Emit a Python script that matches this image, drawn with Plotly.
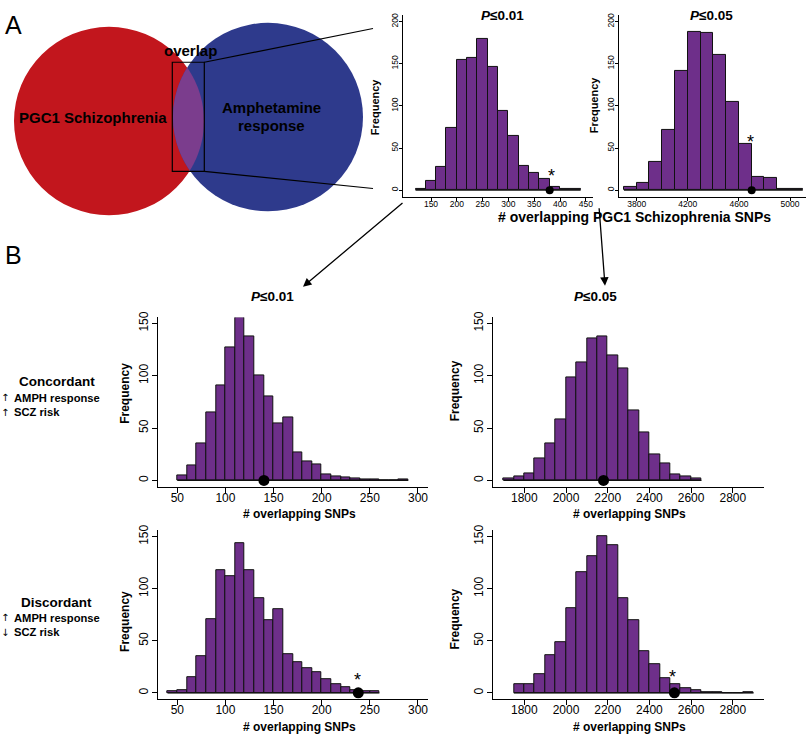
import numpy as np
import plotly.graph_objects as go

W, H = 807, 734
FONT = "Liberation Sans, Arial, Helvetica, sans-serif"
PURPLE = "#6E2F8A"
RED = "#C2161D"
BLUE = "#2E3A8C"
LENS = "#7B3D8D"

# ---------------- data ----------------
# Panel A, P<=0.01 (bin width 20)
a1_bin_left = [120, 140, 160, 180, 200, 220, 240, 260, 280, 300, 320, 340, 360, 380, 400, 420]
a1_counts = [1, 11, 28, 74, 155, 157, 180, 146, 94, 64, 29, 20, 13, 4, 2, 1]
a1_observed = 380
a1_star = (384, 21)
a1_xticks = [150, 200, 250, 300, 350, 400, 450]
a1_yticks = [0, 50, 100, 150, 200]

# Panel A, P<=0.05 (bin width 100)
a2_bin_left = [3700, 3800, 3900, 4000, 4100, 4200, 4300, 4400, 4500, 4600, 4700, 4800, 4900, 5000]
a2_counts = [4, 9, 33, 72, 142, 188, 186, 161, 105, 55, 16, 15, 1, 1]
a2_observed = 4700
a2_star = (4694, 62)
a2_xticks = [3800, 4200, 4600, 5000]
a2_yticks = [0, 50, 100, 150, 200]

# Panel B, concordant, P<=0.01 (bin width 10)
b1_bin_left = [50, 60, 70, 80, 90, 100, 110, 120, 130, 140, 150, 160, 170, 180, 190,
               200, 210, 220, 230, 240, 250, 260, 270, 280]
b1_counts = [5, 14, 35, 65, 91, 127, 156, 138, 100, 80, 54, 60, 27, 18, 15,
             6, 4, 3, 2, 1, 1, 0, 0, 1]
b1_observed = 140

# Panel B, concordant, P<=0.05 (bin width 50)
b2_bin_left = [1700, 1750, 1800, 1850, 1900, 1950, 2000, 2050, 2100, 2150, 2200, 2250,
               2300, 2350, 2400, 2450, 2500, 2550, 2600]
b2_counts = [2, 4, 7, 21, 35, 58, 98, 113, 136, 138, 119, 107, 67, 46, 25, 16, 6, 4, 2]
b2_observed = 2180

# Panel B, discordant, P<=0.01 (bin width 10)
b3_bin_left = [40, 50, 60, 70, 80, 90, 100, 110, 120, 130, 140, 150, 160, 170, 180,
               190, 200, 210, 220, 230, 240, 250]
b3_counts = [2, 3, 15, 35, 71, 118, 112, 144, 118, 91, 70, 80, 37, 29, 24,
             20, 13, 8, 5, 3, 2, 2]
b3_observed = 238
b3_star = (237, 16)

# Panel B, discordant, P<=0.05 (bin width 50)
b4_bin_left = [1750, 1800, 1850, 1900, 1950, 2000, 2050, 2100, 2150, 2200, 2250, 2300,
               2350, 2400, 2450, 2500, 2550, 2600, 2650, 2700, 2750, 2800, 2850]
b4_counts = [8, 8, 18, 36, 49, 81, 116, 131, 150, 142, 91, 70,
             40, 28, 14, 8, 4, 3, 1, 1, 0, 0, 1]
b4_observed = 2520
b4_star = (2510, 19)

b_left_xticks = [50, 100, 150, 200, 250, 300]
b_right_xticks = [1800, 2000, 2200, 2400, 2600, 2800]
b_yticks = [0, 50, 100, 150]


def lin_range(v1, p1, v2, p2, pa, pb):
    s = (p2 - p1) / (v2 - v1)
    return [v1 + (pa - p1) / s, v1 + (pb - p1) / s]


panels = [
    dict(bins=a1_bin_left, w=20, counts=a1_counts, obs=a1_observed, star=a1_star,
         xticks=a1_xticks, yticks=a1_yticks,
         xcal=(150, 431, 400, 560), xreg=(403, 593),
         ycal=(0, 185.7, 200, 15.7), yreg=(192.5, 9), tfs=8.5, dot=8, tl=3,
         xso=-4, yso=-2),
    dict(bins=a2_bin_left, w=100, counts=a2_counts, obs=a2_observed, star=a2_star,
         xticks=a2_xticks, yticks=a2_yticks,
         xcal=(3800, 636.7, 5000, 790), xreg=(619, 806),
         ycal=(0, 185.7, 200, 15.7), yreg=(192.5, 9), tfs=8.5, dot=8, tl=3,
         xso=-4, yso=-2),
    dict(bins=b1_bin_left, w=10, counts=b1_counts, obs=b1_observed, star=None,
         xticks=b_left_xticks, yticks=b_yticks,
         xcal=(50, 177.3, 200, 321.7), xreg=(158.3, 428),
         ycal=(0, 478.3, 150, 320), yreg=(484.6, 314), tfs=12, dot=11, tl=5,
         xso=-5, yso=0),
    dict(bins=b2_bin_left, w=50, counts=b2_counts, obs=b2_observed, star=None,
         xticks=b_right_xticks, yticks=b_yticks,
         xcal=(1800, 524.3, 2000, 566), xreg=(493.3, 763.6),
         ycal=(0, 478.3, 150, 320), yreg=(484.6, 314), tfs=12, dot=11, tl=5,
         xso=-5, yso=0),
    dict(bins=b3_bin_left, w=10, counts=b3_counts, obs=b3_observed, star=b3_star,
         xticks=b_left_xticks, yticks=b_yticks,
         xcal=(50, 177.3, 200, 321.7), xreg=(158.3, 428),
         ycal=(0, 692.5, 150, 535), yreg=(698.8, 528.5), tfs=12, dot=11, tl=5,
         xso=-5, yso=0),
    dict(bins=b4_bin_left, w=50, counts=b4_counts, obs=b4_observed, star=b4_star,
         xticks=b_right_xticks, yticks=b_yticks,
         xcal=(1800, 524.3, 2000, 566), xreg=(493.3, 763.6),
         ycal=(0, 692.5, 150, 535), yreg=(698.8, 528.5), tfs=12, dot=11, tl=5,
         xso=-5, yso=0),
]

fig = go.Figure()
annotations = []
layout_axes = {}

for i, p in enumerate(panels, start=1):
    xa = "x" if i == 1 else f"x{i}"
    ya = "y" if i == 1 else f"y{i}"
    xr = lin_range(*p["xcal"], *p["xreg"])
    yr = lin_range(*p["ycal"], *p["yreg"])
    centers = [b + p["w"] / 2 for b in p["bins"]]
    fig.add_trace(go.Bar(
        x=centers, y=p["counts"], width=p["w"],
        marker=dict(color=PURPLE, line=dict(color="#111111", width=1)),
        xaxis=xa, yaxis=ya, hoverinfo="skip"))
    # baseline of the histogram rectangles (visible where a bin is empty)
    fig.add_trace(go.Scatter(
        x=[p["bins"][0], p["bins"][-1] + p["w"]], y=[0, 0], mode="lines",
        line=dict(color="#111111", width=1.2), xaxis=xa, yaxis=ya,
        hoverinfo="skip"))
    fig.add_trace(go.Scatter(
        x=[p["obs"]], y=[0], mode="markers",
        marker=dict(color="black", size=p["dot"]),
        xaxis=xa, yaxis=ya, cliponaxis=False, hoverinfo="skip"))
    common = dict(showline=True, linecolor="black", linewidth=1, ticks="outside",
                  ticklen=p["tl"], tickwidth=1, tickcolor="black", showgrid=False,
                  zeroline=False, fixedrange=True,
                  tickfont=dict(family=FONT, size=p["tfs"], color="black"))
    layout_axes["xaxis" if i == 1 else f"xaxis{i}"] = dict(
        domain=[p["xreg"][0] / W, p["xreg"][1] / W], range=xr, anchor=ya,
        tickvals=p["xticks"], ticktext=[str(t) for t in p["xticks"]],
        ticklabelstandoff=p["xso"], **common)
    layout_axes["yaxis" if i == 1 else f"yaxis{i}"] = dict(
        domain=[1 - p["yreg"][0] / H, 1 - p["yreg"][1] / H], range=yr, anchor=xa,
        tickvals=p["yticks"], ticktext=[str(t) for t in p["yticks"]], tickangle=-90,
        ticklabelstandoff=p["yso"], **common)
    if p["star"] is not None:
        annotations.append(dict(x=p["star"][0], y=p["star"][1], xref=xa, yref=ya,
                                text="*", showarrow=False, yshift=-4,
                                font=dict(family=FONT, size=18, color="black")))


def txt(x, y, s, size, bold=True, xanchor="center", angle=0, family=FONT):
    t = f"<b>{s}</b>" if bold else s
    annotations.append(dict(x=x / W, y=1 - y / H, xref="paper", yref="paper", text=t,
                            showarrow=False, xanchor=xanchor, yanchor="middle",
                            textangle=angle,
                            font=dict(family=family, size=size, color="black")))


# panel letters
txt(3, 19, "A", 25, bold=False, xanchor="left")
txt(3, 251, "B", 25, bold=False, xanchor="left")

# Venn text
txt(93, 112, "PGC1 Schizophrenia", 15)
txt(271, 102, "Amphetamine", 15)
txt(271, 120, "response", 15)
txt(190, 45, "overlap", 15)

# titles
txt(502, 10, "<i>P</i>≤0.01", 13.5)
txt(711, 10, "<i>P</i>≤0.05", 13.5)
txt(272, 293, "<i>P</i>≤0.01", 13.5)
txt(595, 293, "<i>P</i>≤0.05", 13.5)

# axis titles
txt(375, 102, "Frequency", 11, angle=-90)
txt(594, 100, "Frequency", 11, angle=-90)
txt(634, 213, "# overlapping PGC1 Schizophrenia SNPs", 14)
for yy in (390, 620):
    txt(125, yy, "Frequency", 12, angle=-90)
    txt(455, yy - 1.5, "Frequency", 12, angle=-90)
for yy in (512, 727):
    txt(299, yy, "# overlapping SNPs", 12)
    txt(629.5, yy, "# overlapping SNPs", 12)

# side labels
ARROWFONT = "DejaVu Sans, Liberation Sans, sans-serif"
txt(56.5, 379, "Concordant", 13.5)
txt(11.5, 395, "AMPH response", 11.2, xanchor="left")
txt(11.5, 409.5, "SCZ risk", 11.2, xanchor="left")
txt(5, 395, "↑", 10, bold=False, family=ARROWFONT)
txt(5, 409.5, "↑", 10, bold=False, family=ARROWFONT)
txt(56.5, 601, "Discordant", 13.5)
txt(11.5, 617, "AMPH response", 11.2, xanchor="left")
txt(11.5, 631.5, "SCZ risk", 11.2, xanchor="left")
txt(5, 617, "↑", 10, bold=False, family=ARROWFONT)
txt(5, 631.5, "↓", 10, bold=False, family=ARROWFONT)

# arrows from panel A to panel B
for tail, tip in [((404, 198), (303, 283)), ((599, 203), (605, 282))]:
    annotations.append(dict(x=tip[0] / W, y=1 - tip[1] / H, xref="paper", yref="paper",
                            ax=tail[0] - tip[0], ay=tail[1] - tip[1], axref="pixel",
                            ayref="pixel", text="", showarrow=True, arrowhead=2,
                            arrowsize=1.3, arrowwidth=1.3, arrowcolor="black"))

# Venn shapes
c1, r1 = (109.0, 116.0), 95.0
c2, r2 = (268.0, 112.0), 95.0


def circ(c, r, color):
    return dict(type="circle", xref="paper", yref="paper",
                x0=(c[0] - r) / W, x1=(c[0] + r) / W,
                y0=1 - (c[1] + r) / H, y1=1 - (c[1] - r) / H,
                fillcolor=color, line=dict(width=0), layer="below")


# lens outline (intersection of the two circles)
d = np.hypot(c2[0] - c1[0], c2[1] - c1[1])
ang12 = np.arctan2(c2[1] - c1[1], c2[0] - c1[0])
a1 = np.arccos((d ** 2 + r1 ** 2 - r2 ** 2) / (2 * d * r1))
a2 = np.arccos((d ** 2 + r2 ** 2 - r1 ** 2) / (2 * d * r2))
t1 = np.linspace(ang12 - a1, ang12 + a1, 60)
t2 = np.linspace(ang12 + np.pi - a2, ang12 + np.pi + a2, 60)
pts = [(c1[0] + r1 * np.cos(t), c1[1] + r1 * np.sin(t)) for t in t1] + \
      [(c2[0] + r2 * np.cos(t), c2[1] + r2 * np.sin(t)) for t in t2]
path = "M " + " L ".join(f"{x / W:.5f},{1 - y / H:.5f}" for x, y in pts) + " Z"

shapes = [
    circ(c1, r1, RED),
    circ(c2, r2, BLUE),
    dict(type="path", path=path, xref="paper", yref="paper", fillcolor=LENS,
         line=dict(width=0), layer="below"),
    dict(type="rect", xref="paper", yref="paper", x0=172.3 / W, x1=204.3 / W,
         y0=1 - 166.7 / H, y1=1 - 56.7 / H, line=dict(color="black", width=1.2)),
    dict(type="line", xref="paper", yref="paper", x0=204.3 / W, y0=1 - 56.7 / H,
         x1=373 / W, y1=1 - 22.7 / H, line=dict(color="black", width=1.2)),
    dict(type="line", xref="paper", yref="paper", x0=204.3 / W, y0=1 - 166.7 / H,
         x1=373 / W, y1=1 - 184 / H, line=dict(color="black", width=1.2)),
]

fig.update_layout(
    width=W, height=H, margin=dict(l=0, r=0, t=0, b=0),
    paper_bgcolor="white", plot_bgcolor="rgba(0,0,0,0)",
    showlegend=False, bargap=0,
    font=dict(family=FONT, color="black"),
    annotations=annotations, shapes=shapes, **layout_axes)

fig.write_html("out.html", config={"displayModeBar": False},
               post_script="document.body.style.margin='0px';document.body.style.padding='0px';")
